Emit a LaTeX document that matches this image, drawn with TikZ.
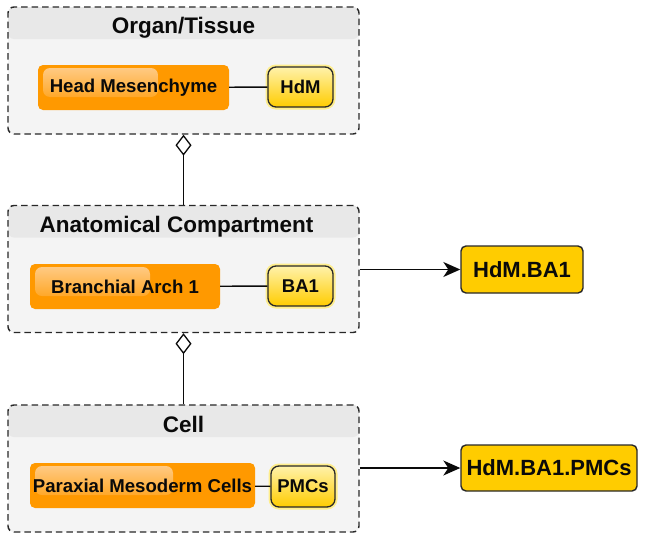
\documentclass[tikz,border=0pt]{standalone}
\usepackage{fontspec}
\setmainfont{Liberation Sans}
\usetikzlibrary{arrows.meta,calc}
\definecolor{bodygray}{RGB}{244,244,244}
\definecolor{hdrgray}{RGB}{232,232,232}
\definecolor{borderdk}{RGB}{40,40,40}
\definecolor{orng}{RGB}{255,153,0}
\definecolor{orngl}{RGB}{255,205,140}
\definecolor{gold}{RGB}{255,204,0}
\definecolor{ltyel}{RGB}{255,242,170}
\definecolor{halo}{RGB}{255,238,140}
\definecolor{txt}{RGB}{10,10,10}
\tikzset{
 container/.style={fill=bodygray, draw=borderdk, dash pattern=on 6.5pt off 4pt, line width=1.4pt,
   rounded corners=6pt, minimum width=351pt, minimum height=127pt, inner sep=0pt,
   path picture={\fill[hdrgray] (path picture bounding box.north west) rectangle ([yshift=-32pt]path picture bounding box.north east);}},
 titletext/.style={font=\bfseries\fontsize{22.5}{26}\selectfont, text=txt, inner sep=0pt, anchor=base},
 orangebox/.style={fill=orng, rounded corners=5pt, inner sep=0pt, minimum height=45pt, text=txt,
   font=\bfseries\fontsize{18.6}{21}\selectfont,
   path picture={\shade[top color=orngl, bottom color=orng, rounded corners=7pt]
     ([xshift=5pt,yshift=-3pt]path picture bounding box.north west) rectangle ++(#1,-29pt);}},
 ybox/.style={draw=borderdk, line width=1.3pt, rounded corners=8pt, top color=ltyel, bottom color=gold,
   minimum height=40pt, inner sep=0pt, text=txt, font=\bfseries\fontsize{18.5}{21}\selectfont,
   preaction={draw=halo, line width=5pt}},
 resbox/.style={draw=borderdk, line width=1.4pt, fill=gold, rounded corners=5pt, inner sep=0pt,
   minimum height=46pt, text=txt, font=\bfseries\fontsize{22}{25}\selectfont},
 link/.style={draw=txt, line width=1.4pt},
 compose/.style={draw=txt, line width=1.3pt, -{Diamond[length=21pt,width=16pt,fill=white]}},
 arr/.style={draw=txt, line width=1.4pt, -{Stealth[length=17pt,width=15pt,inset=5pt]}}
}
\begin{document}
\begin{tikzpicture}[x=1pt,y=-1pt]
\useasboundingbox (0,0) rectangle (645,541);
% containers
\node[container] (c1) at (183.5,70.5) {};
\node[container] (c2) at (183.5,269) {};
\node[container] (c3) at (183.5,468.5) {};
\node[titletext] (t1) at (183.5,33) {Organ/Tissue};
\node[titletext] (t2) at (176.5,232) {Anatomical Compartment};
\node[titletext] (t3) at (183.5,432) {Cell};
% inner boxes
\node[orangebox=115pt, minimum width=191pt] (hm) at (133.5,87.5) {Head Mesenchyme};
\node[ybox, minimum width=65pt] (hdm) at (300.5,87) {HdM};
\node[orangebox=115pt, minimum width=190pt] (ba) at (125,286.5) {Branchial Arch 1};
\node[ybox, minimum width=65pt] (ba1) at (300.5,286) {BA1};
\node[orangebox=138pt, minimum width=225pt] (pmc) at (142.5,485.5) {Paraxial Mesoderm Cells};
\node[ybox, minimum width=64pt, minimum height=41pt] (pmcs) at (303,486.5) {PMCs};
\draw[link] (hm) -- (hdm);
\draw[link] (ba) -- (ba1);
\draw[link] (pmc) -- (pmcs);
% composition connectors
\draw[compose] (c2.north) -- (c1.south);
\draw[compose] (c3.north) -- (c2.south);
% results
\node[resbox, minimum width=122pt, minimum height=47pt] (r1) at (522,269.5) {HdM.BA1};
\node[resbox, minimum width=176pt] (r2) at (549,468) {HdM.BA1.PMCs};
\draw[arr] (r1.west -| c2.east) -- (r1.west);
\draw[arr] (r2.west -| c3.east) -- (r2.west);
\end{tikzpicture}
\end{document}
